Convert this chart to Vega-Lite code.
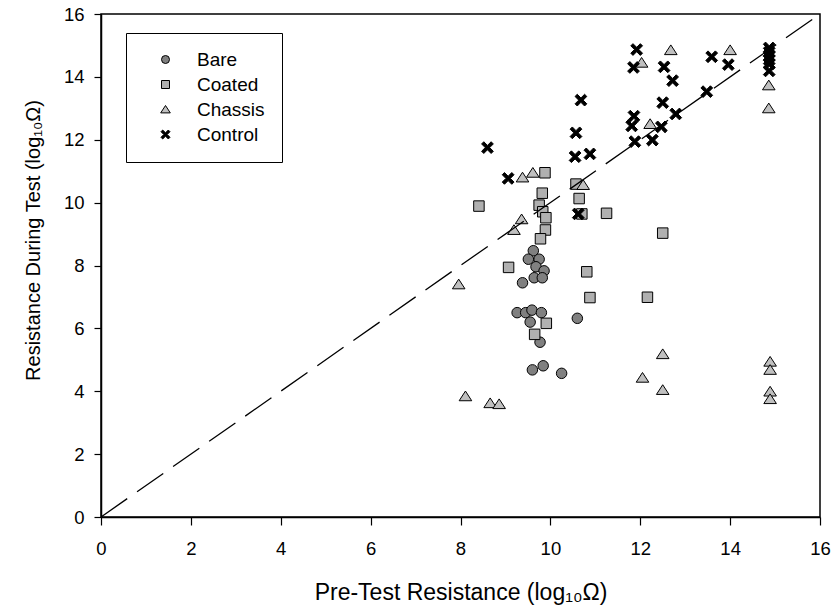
{
  "$schema": "https://vega.github.io/schema/vega-lite/v6.json",
  "width": 719,
  "height": 503,
  "autosize": "none",
  "padding": {"left": 101, "top": 14, "right": 12, "bottom": 94},
  "background": "white",
  "config": {
    "font": "Liberation Sans",
    "view": {"stroke": "black", "strokeWidth": 1.5},
    "axis": {
      "grid": false,
      "domainColor": "black",
      "domainWidth": 1.5,
      "tickColor": "black",
      "tickWidth": 1.2,
      "labelColor": "black",
      "labelFont": "Liberation Sans",
      "labelFontSize": 18.5,
      "titleColor": "black",
      "titleFont": "Liberation Sans",
      "titleFontWeight": "normal",
      "labelFlush": false,
      "labelOverlap": false
    },
    "legend": {
      "orient": "none", "legendX": 25, "legendY": 19,
      "strokeColor": "black", "fillColor": "white", "padding": 17,
      "symbolSize": 64, "symbolStrokeColor": "black", "symbolStrokeWidth": 1,
      "labelFontSize": 19, "labelColor": "black", "labelFont": "Liberation Sans",
      "rowPadding": 5, "symbolOffset": 13, "labelOffset": 22
    }
  },
  "layer": [
    {
      "data": {
        "values": [
          {"x": 9.62, "y": 8.47, "type": "Bare"},
          {"x": 9.51, "y": 8.20, "type": "Bare"},
          {"x": 9.75, "y": 8.20, "type": "Bare"},
          {"x": 9.68, "y": 7.96, "type": "Bare"},
          {"x": 9.86, "y": 7.83, "type": "Bare"},
          {"x": 9.64, "y": 7.61, "type": "Bare"},
          {"x": 9.82, "y": 7.61, "type": "Bare"},
          {"x": 9.38, "y": 7.45, "type": "Bare"},
          {"x": 9.26, "y": 6.50, "type": "Bare"},
          {"x": 9.45, "y": 6.50, "type": "Bare"},
          {"x": 9.59, "y": 6.58, "type": "Bare"},
          {"x": 9.80, "y": 6.50, "type": "Bare"},
          {"x": 9.55, "y": 6.20, "type": "Bare"},
          {"x": 9.77, "y": 5.56, "type": "Bare"},
          {"x": 10.60, "y": 6.32, "type": "Bare"},
          {"x": 9.60, "y": 4.68, "type": "Bare"},
          {"x": 9.84, "y": 4.81, "type": "Bare"},
          {"x": 10.25, "y": 4.57, "type": "Bare"},
          {"x": 8.41, "y": 9.89, "type": "Coated"},
          {"x": 9.07, "y": 7.94, "type": "Coated"},
          {"x": 9.88, "y": 10.95, "type": "Coated"},
          {"x": 9.82, "y": 10.30, "type": "Coated"},
          {"x": 9.75, "y": 9.92, "type": "Coated"},
          {"x": 9.83, "y": 9.71, "type": "Coated"},
          {"x": 9.90, "y": 9.52, "type": "Coated"},
          {"x": 9.89, "y": 9.13, "type": "Coated"},
          {"x": 9.78, "y": 8.85, "type": "Coated"},
          {"x": 9.91, "y": 6.16, "type": "Coated"},
          {"x": 9.65, "y": 5.81, "type": "Coated"},
          {"x": 10.57, "y": 10.59, "type": "Coated"},
          {"x": 10.64, "y": 10.13, "type": "Coated"},
          {"x": 10.70, "y": 9.64, "type": "Coated"},
          {"x": 11.25, "y": 9.66, "type": "Coated"},
          {"x": 10.81, "y": 7.80, "type": "Coated"},
          {"x": 10.88, "y": 6.98, "type": "Coated"},
          {"x": 12.16, "y": 6.99, "type": "Coated"},
          {"x": 12.50, "y": 9.03, "type": "Coated"},
          {"x": 7.96, "y": 7.40, "type": "Chassis"},
          {"x": 8.11, "y": 3.84, "type": "Chassis"},
          {"x": 8.66, "y": 3.62, "type": "Chassis"},
          {"x": 8.86, "y": 3.59, "type": "Chassis"},
          {"x": 9.19, "y": 9.13, "type": "Chassis"},
          {"x": 9.36, "y": 9.47, "type": "Chassis"},
          {"x": 9.38, "y": 10.80, "type": "Chassis"},
          {"x": 9.61, "y": 10.95, "type": "Chassis"},
          {"x": 10.73, "y": 10.56, "type": "Chassis"},
          {"x": 12.03, "y": 14.45, "type": "Chassis"},
          {"x": 12.22, "y": 12.50, "type": "Chassis"},
          {"x": 12.68, "y": 14.85, "type": "Chassis"},
          {"x": 14.00, "y": 14.85, "type": "Chassis"},
          {"x": 14.86, "y": 13.73, "type": "Chassis"},
          {"x": 14.86, "y": 13.00, "type": "Chassis"},
          {"x": 12.05, "y": 4.43, "type": "Chassis"},
          {"x": 12.50, "y": 5.18, "type": "Chassis"},
          {"x": 12.50, "y": 4.04, "type": "Chassis"},
          {"x": 14.89, "y": 4.94, "type": "Chassis"},
          {"x": 14.89, "y": 4.68, "type": "Chassis"},
          {"x": 14.89, "y": 3.99, "type": "Chassis"},
          {"x": 14.89, "y": 3.75, "type": "Chassis"},
          {"x": 8.60, "y": 11.75, "type": "Control"},
          {"x": 9.06, "y": 10.77, "type": "Control"},
          {"x": 10.55, "y": 11.46, "type": "Control"},
          {"x": 10.57, "y": 12.22, "type": "Control"},
          {"x": 10.68, "y": 13.26, "type": "Control"},
          {"x": 10.88, "y": 11.55, "type": "Control"},
          {"x": 10.62, "y": 9.64, "type": "Control"},
          {"x": 11.92, "y": 14.87, "type": "Control"},
          {"x": 11.85, "y": 14.30, "type": "Control"},
          {"x": 11.86, "y": 12.75, "type": "Control"},
          {"x": 11.81, "y": 12.44, "type": "Control"},
          {"x": 11.88, "y": 11.94, "type": "Control"},
          {"x": 12.27, "y": 11.99, "type": "Control"},
          {"x": 12.47, "y": 12.41, "type": "Control"},
          {"x": 12.50, "y": 13.18, "type": "Control"},
          {"x": 12.53, "y": 14.32, "type": "Control"},
          {"x": 12.72, "y": 13.88, "type": "Control"},
          {"x": 12.79, "y": 12.82, "type": "Control"},
          {"x": 13.48, "y": 13.53, "type": "Control"},
          {"x": 13.59, "y": 14.64, "type": "Control"},
          {"x": 13.96, "y": 14.39, "type": "Control"},
          {"x": 14.87, "y": 14.92, "type": "Control"},
          {"x": 14.87, "y": 14.79, "type": "Control"},
          {"x": 14.87, "y": 14.66, "type": "Control"},
          {"x": 14.87, "y": 14.54, "type": "Control"},
          {"x": 14.87, "y": 14.41, "type": "Control"},
          {"x": 14.87, "y": 14.19, "type": "Control"}
        ]
      },
      "mark": {"type": "point", "filled": true, "strokeWidth": 1, "size": 110, "opacity": 1},
      "encoding": {
        "x": {
          "field": "x", "type": "quantitative",
          "scale": {"domain": [0, 16], "nice": false, "zero": false},
          "axis": {
            "title": "Pre-Test Resistance (log₁₀Ω)",
            "titleFontSize": 23,
            "values": [0, 2, 4, 6, 8, 10, 12, 14, 16],
            "tickSize": 8,
            "labelPadding": 14,
            "titleY": 75,
            "titleBaseline": "middle"
          }
        },
        "y": {
          "field": "y", "type": "quantitative",
          "scale": {"domain": [0, 16], "nice": false, "zero": false},
          "axis": {
            "title": "Resistance During Test (log₁₀Ω)",
            "titleFontSize": 20,
            "values": [0, 2, 4, 6, 8, 10, 12, 14, 16],
            "tickSize": 7,
            "labelPadding": 10,
            "titleX": -68,
            "titleY": 226,
            "titleAngle": -90,
            "titleAlign": "center",
            "titleBaseline": "middle"
          }
        },
        "shape": {
          "field": "type", "type": "nominal",
          "scale": {
            "domain": ["Bare", "Coated", "Chassis", "Control"],
            "range": ["circle", "square", "M0,-1L1.2,0.85L-1.2,0.85Z", "M-1.12,-0.7L-0.7,-1.12L0,-0.42L0.7,-1.12L1.12,-0.7L0.42,0L1.12,0.7L0.7,1.12L0,0.42L-0.7,1.12L-1.12,0.7L-0.42,0Z"]
          },
          "legend": {"title": null}
        },
        "fill": {
          "field": "type", "type": "nominal",
          "scale": {
            "domain": ["Bare", "Coated", "Chassis", "Control"],
            "range": ["#808080", "#B0B0B0", "#C0C0C0", "#000000"]
          },
          "legend": {"title": null}
        },
        "stroke": {
          "field": "type", "type": "nominal",
          "scale": {
            "domain": ["Bare", "Coated", "Chassis", "Control"],
            "range": ["#000000", "#000000", "#000000", "#000000"]
          },
          "legend": {"title": null}
        }
      }
    },
    {
      "data": {"values": [{"x": 0, "y": 0}, {"x": 16, "y": 16}]},
      "mark": {"type": "line", "color": "black", "strokeDash": [32, 12], "strokeWidth": 1.3, "clip": true},
      "encoding": {
        "x": {"field": "x", "type": "quantitative"},
        "y": {"field": "y", "type": "quantitative"}
      }
    }
  ]
}
